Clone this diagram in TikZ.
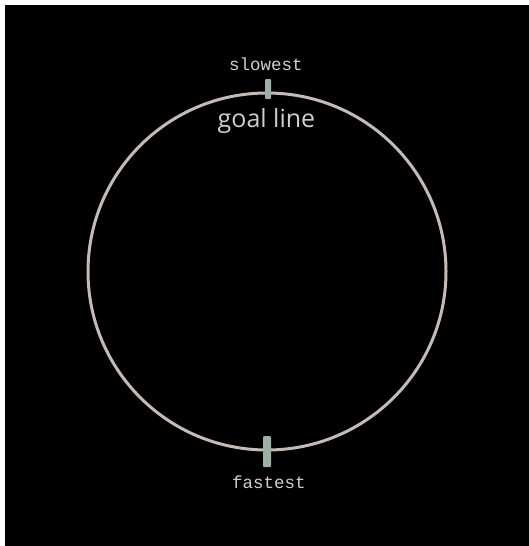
\documentclass[tikz,border=0pt]{standalone}
\usepackage{fontspec}
\setmainfont{Open Sans}
\newfontfamily\monofnt{Liberation Mono}
\usetikzlibrary{shapes.geometric}
\definecolor{ringcol}{HTML}{C4BAB6}
\definecolor{tickcol}{HTML}{9CB0A8}
\definecolor{txtcol}{HTML}{CFCFCF}
\begin{document}
\begin{tikzpicture}[x=1pt,y=-1pt,
  ring/.style={ellipse,draw=ringcol,line width=3pt,minimum width=358pt,minimum height=357pt,inner sep=0pt},
  tickmark/.style={rectangle,fill=tickcol,draw=none,inner sep=0pt,rounded corners=1pt},
  monolabel/.style={text=txtcol,font=\monofnt\fontsize{17.5}{18}\selectfont,inner sep=0pt},
  goallabel/.style={text=txtcol,font=\fontsize{25}{26}\selectfont,inner sep=0pt}]
\useasboundingbox (0,0) rectangle (529,546);
\fill[white] (0,0) rectangle (529,546);
\fill[black] (5,5) rectangle (529,546);
\node[ring] (circ) at (267,271.5) {};
\node[tickmark,minimum width=6pt,minimum height=20pt] (tt) at (268,89) {};
\node[tickmark,minimum width=8pt,minimum height=31pt] (bt) at (267,451.5) {};
\node[monolabel] (slow) at (266,64) {slowest};
\node[monolabel] (fast) at (269,482) {fastest};
\node[goallabel] (goal) at (266.5,121) {goal line};
\end{tikzpicture}
\end{document}
